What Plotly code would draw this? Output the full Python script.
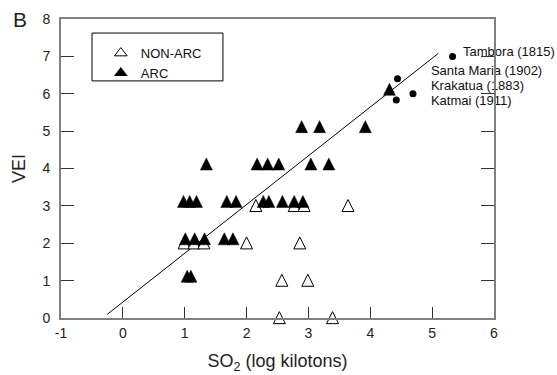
import plotly.graph_objects as go

# ---- data ----
nonarc_so2 = [0.99, 1.15, 1.31, 2.00, 2.86, 2.15, 2.77, 2.93, 3.64, 2.57, 2.99, 2.53, 3.39]
nonarc_vei = [2, 2, 2, 2, 2, 3, 3, 3, 3, 1, 1, 0, 0]

arc_so2 = [1.04, 1.10,
           1.01, 1.16, 1.32, 1.64, 1.78,
           0.98, 1.08, 1.19, 1.68, 1.83, 2.27, 2.36, 2.58, 2.77, 2.91,
           1.35, 2.17, 2.34, 2.52, 3.04, 3.33,
           2.89, 3.18, 3.92,
           4.31]
arc_vei = [1, 1,
           2, 2, 2, 2, 2,
           3, 3, 3, 3, 3, 3, 3, 3, 3, 3,
           4, 4, 4, 4, 4, 4,
           5, 5, 5,
           6]

volc_names = ["Tambora (1815)", "Santa Maria (1902)", "Krakatua (1883)", "Katmai (1911)"]
volc_so2 = [5.33, 4.44, 4.69, 4.42]
volc_vei = [7.0, 6.4, 6.0, 5.83]
label_x = [5.50, 4.98, 4.98, 4.98]
label_y = [7.1, 6.58, 6.18, 5.79]

fit_x = [-0.25, 5.10]
fit_y = [0.10, 7.08]

x_ticks = [-1, 0, 1, 2, 3, 4, 5, 6]
x_tick_text = ["-1", "0", "1", "2", "3", "4", "5", "6"]
y_ticks = [0, 1, 2, 3, 4, 5, 6, 7, 8]

# arrow-up markers have their apex at the data point; lift so the symbol sits on the VEI level
NONARC_LIFT = 0.17
ARC_LIFT = 0.28

FONT = "Arial, 'Liberation Sans', sans-serif"

fig = go.Figure()

fig.add_trace(go.Scatter(
    x=fit_x, y=fit_y, mode="lines",
    line=dict(color="black", width=1), showlegend=False, hoverinfo="skip"))

fig.add_trace(go.Scatter(
    x=nonarc_so2, y=[v + NONARC_LIFT for v in nonarc_vei], mode="markers",
    marker=dict(symbol="arrow-up", size=12, color="white", line=dict(color="black", width=1)),
    showlegend=False, cliponaxis=False))

fig.add_trace(go.Scatter(
    x=arc_so2, y=[v + ARC_LIFT for v in arc_vei], mode="markers",
    marker=dict(symbol="arrow-up", size=12, color="black", line=dict(color="black", width=0.5)),
    showlegend=False, cliponaxis=False))

fig.add_trace(go.Scatter(
    x=volc_so2, y=volc_vei, mode="markers",
    marker=dict(symbol="circle", size=7, color="black"),
    showlegend=False, cliponaxis=False))

fig.add_trace(go.Scatter(
    x=label_x, y=label_y, mode="text", text=volc_names, textposition="middle right",
    textfont=dict(family=FONT, size=13, color="#111"), showlegend=False, cliponaxis=False))

# legend entries
fig.add_trace(go.Scatter(
    x=[None], y=[None], mode="markers", name="NON-ARC",
    marker=dict(symbol="triangle-up", size=11, color="white", line=dict(color="black", width=1))))
fig.add_trace(go.Scatter(
    x=[None], y=[None], mode="markers", name="ARC",
    marker=dict(symbol="triangle-up", size=12, color="black")))

axis_common = dict(
    showgrid=False, zeroline=False, showline=True, linecolor="#808080", linewidth=2,
    ticks="inside", tickcolor="#333", tickwidth=1, automargin=False,
    tickfont=dict(family=FONT, size=14, color="#222"),
)

fig.update_xaxes(
    range=[-1, 6], tickvals=x_ticks, ticktext=x_tick_text, ticklen=11, mirror=True,
    ticklabelstandoff=1,
    title=dict(text="SO<sub>2</sub> (log kilotons)", font=dict(family=FONT, size=18, color="#222"), standoff=15),
    **axis_common)
fig.update_yaxes(
    range=[0, 8], tickvals=y_ticks, ticklen=13, mirror="ticks",
    ticklabelstandoff=6,
    title=dict(text="VEI", font=dict(family=FONT, size=18, color="#222"), standoff=12),
    **axis_common)

fig.add_shape(type="rect", xref="paper", yref="paper",
              x0=0.0716, x1=0.374, y0=0.793, y1=0.953,
              line=dict(color="black", width=1), fillcolor="rgba(0,0,0,0)")

fig.add_annotation(text="B", xref="paper", yref="paper", x=-0.095, y=0.997,
                   xanchor="center", yanchor="middle", showarrow=False,
                   font=dict(family=FONT, size=21, color="#222"))

fig.update_layout(
    width=557, height=375,
    margin=dict(l=61, r=63, t=19, b=57),
    paper_bgcolor="white", plot_bgcolor="white",
    showlegend=True,
    legend=dict(x=0.092, y=0.936, xanchor="left", yanchor="top",
                bgcolor="rgba(0,0,0,0)", borderwidth=0,
                font=dict(family=FONT, size=13, color="#111"),
                tracegroupgap=0, itemsizing="trace"),
)

fig.write_html("out.html")
